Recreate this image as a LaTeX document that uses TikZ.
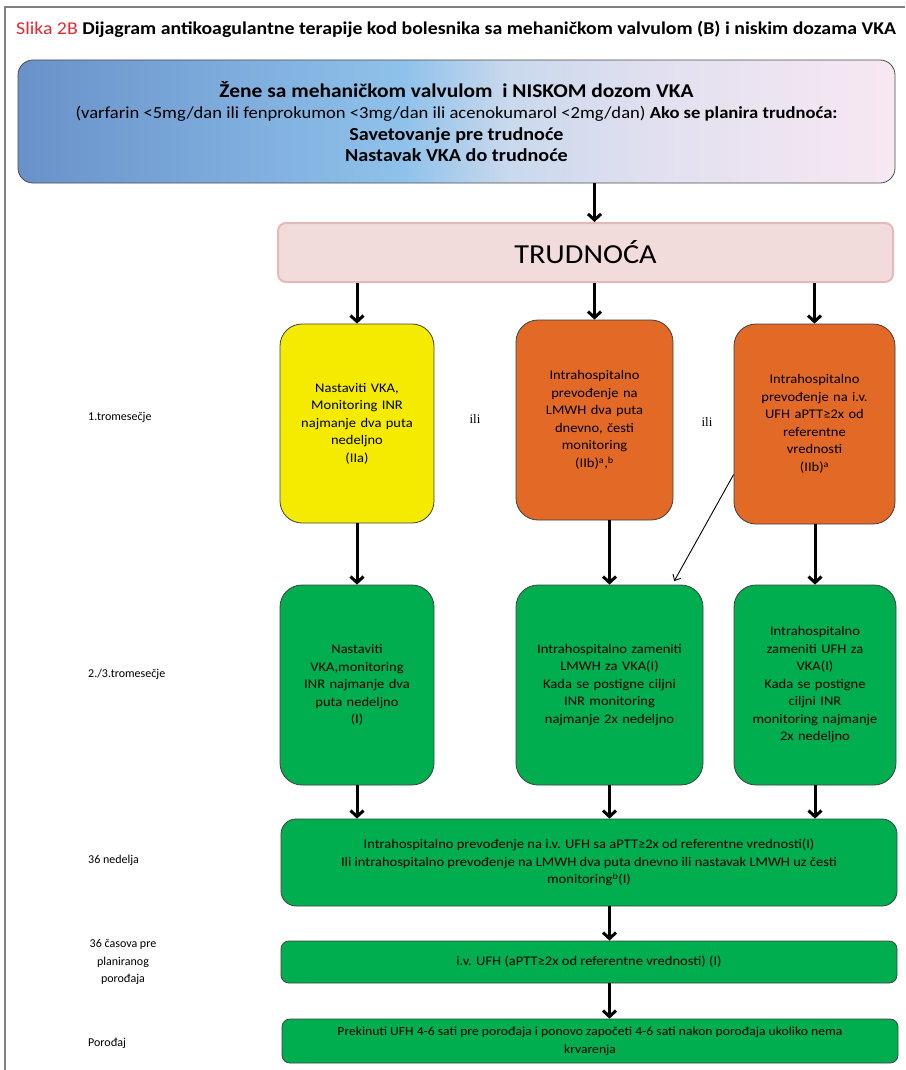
\documentclass[tikz,border=0pt]{standalone}
\usepackage{fontspec}
\setmainfont{Carlito}[FakeStretch=1.1]
\newfontfamily\labelfont{Carlito}
\newfontfamily\ilifont{Liberation Serif}
\usetikzlibrary{arrows.meta,positioning}
\definecolor{slred}{RGB}{232,38,45}
\definecolor{vkyellow}{RGB}{245,235,0}
\definecolor{hporange}{RGB}{226,105,38}
\definecolor{hpgreen}{RGB}{0,174,80}
\definecolor{trfill}{RGB}{242,220,219}
\definecolor{trdraw}{RGB}{230,185,184}
\definecolor{framegray}{RGB}{128,128,128}
\pgfdeclarehorizontalshading{topshade}{100bp}{rgb(0bp)=(0.41,0.57,0.79);rgb(25bp)=(0.41,0.57,0.79);rgb(47bp)=(0.56,0.76,0.92);rgb(53bp)=(0.79,0.85,0.93);rgb(62bp)=(0.89,0.88,0.94);rgb(75bp)=(0.97,0.91,0.95);rgb(100bp)=(0.97,0.91,0.95)}
\tikzset{
  stagebox/.style={draw=black!75,line width=0.8pt,rounded corners=22pt,align=center,
    font=\fontsize{13.2}{17.5}\selectfont,inner sep=0pt},
  widebox/.style={draw=black!75,line width=0.8pt,align=center,fill=hpgreen,
    font=\fontsize{13.2}{17.5}\selectfont,minimum width=616pt,inner sep=0pt},
  phase/.style={font=\labelfont\fontsize{12}{17.5}\selectfont,inner sep=0pt},
  flow/.style={line width=3pt,-{Straight Barb[length=6pt,width=13pt]}},
  ilitext/.style={font=\ilifont\fontsize{13}{15}\selectfont}
}
\begin{document}
\begin{tikzpicture}[x=1pt,y=-1pt]
\useasboundingbox (0,0) rectangle (905,1070);
\draw[framegray,line width=1.5pt] (5,1070) -- (5,7) -- (905,7);
\node[anchor=base west,inner sep=0pt,font=\fontsize{18}{20}\selectfont] (title) at (16,35)
  {\textcolor{slred}{Slika 2B} \textbf{Dijagram antikoagulantne terapije kod bolesnika sa mehaničkom valvulom (B) i niskim dozama VKA}};
\node[draw=black!70,line width=0.8pt,rounded corners=15pt,shading=topshade,minimum width=877pt,
  minimum height=123pt,align=center,font=\fontsize{16.9}{21.5}\selectfont] (women) at (456.5,121.5)
  {{\fontsize{19.5}{19.5}\selectfont\bfseries Žene sa mehaničkom valvulom\ \ i NISKOM dozom VKA}\\[0pt]
   (varfarin <5mg/dan ili fenprokumon <3mg/dan ili acenokumarol <2mg/dan) \textbf{Ako se planira trudnoća:}\\
   {\fontsize{18.3}{21.5}\selectfont\bfseries Savetovanje pre trudnoće}\\
   {\fontsize{18.3}{21.5}\selectfont\bfseries Nastavak VKA do trudnoće}};
\node[draw=trdraw,fill=trfill,line width=2pt,rounded corners=8pt,minimum width=615pt,minimum height=59pt,
  font=\fontsize{27.5}{27.5}\selectfont] (preg) at (585.5,252.5) {TRUDNOĆA};

\node[stagebox,fill=vkyellow,minimum width=154pt,minimum height=199pt,text width=146pt] (vka) at (357,423.5)
  {Nastaviti VKA,\\Monitoring INR\\najmanje dva puta\\nedeljno\\(IIa)};
\node[stagebox,fill=hporange,minimum width=157pt,minimum height=200pt,text width=149pt] (lmwh) at (594.5,420)
  {Intrahospitalno\\prevođenje na\\LMWH dva puta\\dnevno, česti\\monitoring\\(IIb)\textsuperscript{a},\textsuperscript{b}\\[8pt]};
\node[stagebox,fill=hporange,minimum width=161pt,minimum height=200pt,text width=153pt] (ufh) at (814.5,424)
  {Intrahospitalno\\prevođenje na i.v.\\UFH aPTT≥2x od\\referentne\\vrednosti\\(IIb)\textsuperscript{a}};
\node[ilitext] (or1) at (475,419) {ili};
\node[ilitext] (or2) at (707,422) {ili};

\node[stagebox,fill=hpgreen,minimum width=154pt,minimum height=200pt,text width=146pt] (vkacont) at (357,685)
  {Nastaviti\\VKA,monitoring\\INR najmanje dva\\puta nedeljno\\(I)};
\node[stagebox,fill=hpgreen,minimum width=187pt,minimum height=200pt,text width=179pt] (lmwhsw) at (609.5,685)
  {Intrahospitalno zameniti\\LMWH za VKA(I)\\Kada se postigne ciljni\\INR monitoring\\najmanje 2x nedeljno};
\node[stagebox,fill=hpgreen,minimum width=162pt,minimum height=200pt,text width=154pt] (ufhsw) at (815,685)
  {Intrahospitalno\\zameniti UFH za\\VKA(I)\\Kada se postigne\\ciljni INR\\monitoring najmanje\\2x nedeljno};

\node[widebox,rounded corners=15pt,minimum height=87pt] (late) at (589,862.5)
  {Intrahospitalno prevođenje na i.v. UFH sa aPTT≥2x od referentne vrednosti(I)\\
   Ili intrahospitalno prevođenje na LMWH dva puta dnevno ili nastavak LMWH uz česti\\
   monitoring\textsuperscript{b}(I)};
\node[widebox,rounded corners=8pt,minimum height=42pt] (ivufh) at (589,962)
  {i.v. UFH (aPTT≥2x od referentne vrednosti) (I)};
\node[widebox,rounded corners=8pt,minimum height=44pt,font=\fontsize{12.4}{17.5}\selectfont] (stop) at (590,1041)
  {Prekinuti UFH 4-6 sati pre porođaja i ponovo započeti 4-6 sati nakon porođaja ukoliko nema\\krvarenja};

\node[phase,anchor=west] (tri1) at (88,417) {1.tromesečje};
\node[phase,anchor=west] (tri23) at (88,674) {2./3.tromesečje};
\node[phase,anchor=west] (wk36) at (88,860) {36 nedelja};
\node[phase,align=center] (hrs36) at (123,962) {36 časova pre\\planiranog\\porođaja};
\node[phase,anchor=west] (deliv) at (88,1043) {Porođaj};

\draw[flow] (women.south -| lmwh.north) -- (preg.north -| lmwh.north);
\foreach \b in {vka,lmwh,ufh}
  \draw[flow] (preg.south -| \b.north) -- (\b.north);
\draw[flow] (vka.south) -- (vkacont.north);
\draw[flow] (lmwh.south -| lmwhsw.north) -- (lmwhsw.north);
\draw[flow] (ufh.south -| ufhsw.north) -- (ufhsw.north);
\foreach \b in {vkacont,lmwhsw,ufhsw}
  \draw[flow] (\b.south) -- (\b.south |- late.north);
\draw[flow] (late.south -| lmwhsw.south) -- (ivufh.north -| lmwhsw.south);
\draw[flow] (ivufh.south -| lmwhsw.south) -- (stop.north -| lmwhsw.south);
\draw[line width=0.9pt,-{Straight Barb[length=5pt,width=9pt]},shorten >=4pt] (ufh.212) -- (lmwhsw.58);
\end{tikzpicture}
\end{document}
